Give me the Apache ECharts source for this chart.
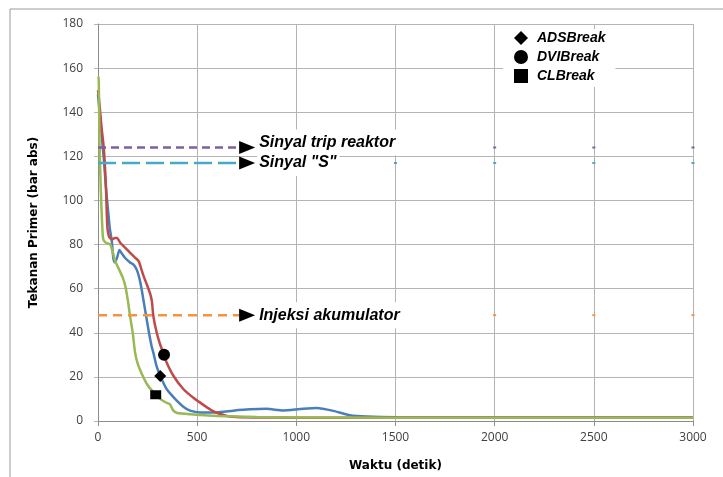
<!DOCTYPE html>
<html><head><meta charset="utf-8">
<script src="https://cdn.jsdelivr.net/npm/echarts@6/dist/echarts.min.js"></script>
<style>html,body{margin:0;padding:0;background:#fff}#c{width:723px;height:477px}</style>
</head><body><div id="c"></div>
<script>
// Pressure curves [time (s), pressure (bar abs)]
const adsLine = [[0,148],[20,128],[30,118],[40,106],[50,96],[60,87],[69,82],[77,74],[84,72],[96,74],[108,77.5],[120,76],[136,74],[160,72],[178,71],[195,68.7],[208,65],[220,59.7],[237,50.6],[254,41.6],[270,34],[279,31],[295,25],[314,20.4],[346,14.5],[397,9.2],[430,6.5],[464,4.7],[514,3.9],[598,3.9],[682,4.7],[766,5.3],[850,5.5],[934,4.8],[1018,5.4],[1103,5.9],[1187,4.6],[1271,2.6],[1355,2],[1506,1.7],[2000,1.6],[3000,1.6]];
const dviLine = [[0,150],[5,146],[18,133],[30,123],[40,106],[47,88],[54,84],[60,83],[71,82.3],[85,83],[96,83],[112,80.8],[138,78.5],[165,76],[188,74],[205,72.5],[218,69],[230,65.7],[250,61],[264,57.4],[272,54],[279,47.6],[296,40],[313,34.8],[333,29.9],[346,26.5],[380,20.5],[430,14.5],[481,10.5],[531,7.3],[570,5],[605,3.5],[650,2.3],[700,1.8],[800,1.6],[1000,1.5],[3000,1.5]];
const clLine = [[0,155.5],[3,156],[8,125],[14,105],[25,83],[37,81],[62,80],[70,78],[87,72.5],[110,68],[125,65],[138,61],[150,55],[161,48],[175,40],[187,31],[200,26],[220,21.5],[245,17],[270,14],[291,12.5],[313,10],[340,8.5],[363,7.5],[380,4.7],[400,3.6],[450,3.2],[514,2.7],[600,2.3],[800,1.8],[1000,1.6],[1500,1.5],[3000,1.5]];

// Break points
const adsBreak = [[314,20.4]];
const dviBreak = [[333,30]];
const clBreak = [[291,11.9]];

// Signal levels
const tripLevel = 124;
const sLevel = 117;
const accLevel = 48;
const levelEnd = 716;
const arrowAt = 752;
const dotTimes = [1500,2000,2500,3000];
const accDotTimes = [2000,2500,3000];
const levelLabels = ['Sinyal trip reaktor','Sinyal "S"','Injeksi akumulator'];
const legendNames = ['ADSBreak','DVIBreak','CLBreak'];

const chart = echarts.init(document.getElementById('c'));
const tickFont = {fontFamily:'Open Sans', fontSize:12, color:'#404040'};
const nameFont = {fontFamily:'DejaVu Sans', fontSize:12, fontWeight:'bold', color:'#000'};
const annFont = {fontFamily:'Liberation Sans', fontSize:16, fontWeight:'bold', fontStyle:'italic', color:'#000'};

function levelSeries(level, color, dash) {
  return {type:'line', silent:true, symbol:'none', data:[[0,level],[levelEnd,level]],
    lineStyle:{color:color, width:2.5, type:dash}, z:3};
}
function arrowSeries(level, text, offY) {
  return {type:'scatter', silent:true, symbol:'triangle', symbolRotate:-90, symbolSize:[13,16],
    itemStyle:{color:'#000', opacity:1}, data:[[arrowAt, level]], z:5,
    label:{show:true, position:'right', distance:2, offset:[0,offY], formatter:text,
      backgroundColor:'#fff', padding:[5,3,5,2], ...annFont}};
}
function dotSeries(times, level, color) {
  return {type:'scatter', silent:true, symbol:'rect', symbolSize:[3,2], itemStyle:{color:color, opacity:1},
    data: times.map(t=>[t,level]), z:3};
}

chart.setOption({
  animation:false,
  graphic:[{type:'rect', shape:{x:10,y:9,width:730,height:480}, style:{fill:'none', stroke:'#9a9a9a', lineWidth:1}, silent:true, z:-1}],
  grid:{left:98, right:30, top:24, bottom:55},
  legend:{data:legendNames, orient:'vertical', left:503, top:29, itemGap:5, itemWidth:14, itemHeight:14,
    backgroundColor:'#fff', padding:[2,10,4,11],
    textStyle:{fontFamily:'Liberation Sans', fontSize:14, fontWeight:'bold', fontStyle:'italic', color:'#000', padding:[0,0,0,4]}},
  xAxis:{type:'value', min:0, max:3000, interval:500,
    name:'Waktu (detik)', nameLocation:'middle', nameGap:39, nameTextStyle:nameFont,
    axisLine:{lineStyle:{color:'#8c8c8c'}}, axisTick:{show:true, length:5, lineStyle:{color:'#8c8c8c'}},
    axisLabel:{...tickFont, margin:11, formatter:v=>String(v)},
    splitLine:{show:true, lineStyle:{color:'#b4b4b4'}}},
  yAxis:{type:'value', min:0, max:180, interval:20,
    name:'Tekanan Primer (bar abs)', nameLocation:'middle', nameRotate:90, nameGap:58, nameTextStyle:nameFont,
    axisLine:{show:true, lineStyle:{color:'#8c8c8c'}}, axisTick:{show:true, length:4, lineStyle:{color:'#b4b4b4'}},
    axisLabel:{...tickFont, margin:15, formatter:v=>String(v)},
    splitLine:{show:true, lineStyle:{color:'#b4b4b4'}}},
  series:[
    levelSeries(tripLevel, '#7d60a0', [8,5]),
    levelSeries(sLevel, '#46aac5', [18,6]),
    levelSeries(accLevel, '#f69240', [9,6]),
    dotSeries(dotTimes, tripLevel, '#7d60a0'),
    dotSeries(dotTimes, sLevel, '#46aac5'),
    dotSeries(accDotTimes, accLevel, '#f69240'),
    arrowSeries(tripLevel, levelLabels[0], -5),
    arrowSeries(sLevel, levelLabels[1], 0),
    arrowSeries(accLevel, levelLabels[2], 0),
    {name:'ADS', type:'line', silent:true, symbol:'none', smooth:0.2, data:adsLine, lineStyle:{color:'#4a7ebb', width:2.5}, z:2},
    {name:'DVI', type:'line', silent:true, symbol:'none', smooth:0.2, data:dviLine, lineStyle:{color:'#be4b48', width:2.5}, z:2},
    {name:'CL', type:'line', silent:true, symbol:'none', smooth:0.2, data:clLine, lineStyle:{color:'#98b954', width:2.5}, z:2},
    {name:'ADSBreak', type:'scatter', symbol:'diamond', symbolSize:12, data:adsBreak, itemStyle:{color:'#000', opacity:1}, z:6},
    {name:'DVIBreak', type:'scatter', symbol:'circle', symbolSize:12, data:dviBreak, itemStyle:{color:'#000', opacity:1}, z:6},
    {name:'CLBreak', type:'scatter', symbol:'rect', symbolSize:[11,9], data:clBreak, itemStyle:{color:'#000', opacity:1}, z:6}
  ]
});
</script></body></html>
